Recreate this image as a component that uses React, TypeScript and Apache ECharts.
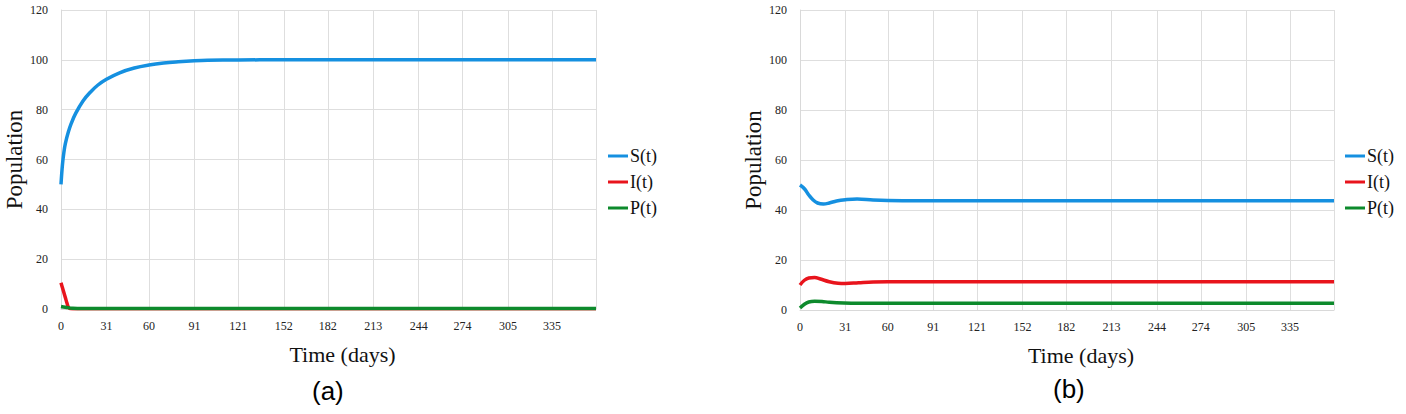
import React, { useEffect, useRef } from "react";
import * as echarts from "echarts";

// Day categories 0..365 and month-start tick days
const DAYS: string[] = Array.from({ length: 366 }, (_, i) => String(i));
const MONTH_TICKS = [0, 31, 60, 91, 121, 152, 182, 213, 244, 274, 305, 335];
const Y_TICKS = [0, 20, 40, 60, 80, 100, 120];

// Panel (a) — [day, population]
const S_A: [number, number][] = [
  [0, 50], [1, 58], [2, 63], [3, 66.5], [5, 71], [7, 74.5], [10, 78.5], [15, 83.5],
  [20, 87], [25, 89.8], [31, 92.2], [40, 94.8], [50, 96.7], [60, 97.9], [70, 98.7],
  [80, 99.2], [91, 99.6], [100, 99.8], [121, 99.95], [150, 100], [200, 100], [365, 100],
];
const I_A: [number, number][] = [
  [0, 10.5], [1, 8.5], [2, 6.5], [3, 4.5], [4, 2.5], [5, 0.8], [6, 0.2], [10, 0.1], [365, 0.1],
];
const P_A: [number, number][] = [
  [0, 1], [3, 0.7], [8, 0.3], [15, 0.2], [365, 0.2],
];

// Panel (b) — [day, population]
const S_B: [number, number][] = [
  [0, 50], [3, 48.5], [6, 46], [9, 44], [12, 42.8], [16, 42.4], [20, 42.8], [25, 43.6],
  [31, 44.1], [39, 44.4], [50, 44.0], [60, 43.8], [80, 43.7], [365, 43.7],
];
const I_B: [number, number][] = [
  [0, 10], [3, 11.9], [6, 12.8], [10, 13], [14, 12.4], [20, 11.3], [26, 10.7], [31, 10.6],
  [40, 10.9], [50, 11.2], [60, 11.3], [365, 11.3],
];
const P_B: [number, number][] = [
  [0, 0.8], [3, 2.3], [6, 3.2], [10, 3.5], [15, 3.4], [20, 3.1], [30, 2.8], [40, 2.7], [365, 2.7],
];

const SERIES_NAMES = ["S(t)", "I(t)", "P(t)"];
const COLORS = ["#1590e0", "#e8141c", "#0d8a2c"];

const SERIF = "Liberation Serif";

export default function App() {
  const ref = useRef<HTMLDivElement>(null);
  useEffect(() => {
    if (!ref.current) return;
    const chart = echarts.init(ref.current, null, { renderer: "svg" });

    const grids = [
      { left: 61, top: 10, width: 535, height: 299 },
      { left: 800, top: 10, width: 534, height: 300 },
    ];

    const xAxis = grids.map((_, gi) => ({
      type: "category",
      gridIndex: gi,
      data: DAYS,
      boundaryGap: false,
      name: "Time (days)",
      nameLocation: "middle",
      nameGap: 34,
      nameTextStyle: { fontFamily: SERIF, fontSize: 22, color: "#111", padding: [0, 0, 0, 28] },
      axisLine: { show: true, lineStyle: { color: "#d9d9d9", width: 1 } },
      axisTick: { show: false },
      axisLabel: {
        interval: (index: number) => MONTH_TICKS.includes(index),
        fontFamily: SERIF,
        fontSize: 12,
        color: "#222",
        margin: 11,
      },
      splitLine: {
        show: true,
        interval: (index: number) => MONTH_TICKS.includes(index) || index === 365,
        lineStyle: { color: "#dedede", width: 1 },
      },
    }));

    const yAxis = grids.map((_, gi) => ({
      type: "value",
      gridIndex: gi,
      min: Y_TICKS[0],
      max: Y_TICKS[Y_TICKS.length - 1],
      interval: 20,
      name: "Population",
      nameLocation: "middle",
      nameGap: 34,
      nameTextStyle: { fontFamily: SERIF, fontSize: 23, color: "#111" },
      axisLine: { show: true, lineStyle: { color: "#d9d9d9", width: 1 } },
      axisTick: { show: false },
      axisLabel: { fontFamily: SERIF, fontSize: 12, color: "#222", margin: 13 },
      splitLine: { show: true, lineStyle: { color: "#dedede", width: 1 } },
    }));

    const panels = [
      [S_A, I_A, P_A],
      [S_B, I_B, P_B],
    ];
    const zOrder = [5, 3, 4];
    const series: any[] = [];
    panels.forEach((p, gi) => {
      p.forEach((data, si) => {
        series.push({
          type: "line",
          name: SERIES_NAMES[si],
          xAxisIndex: gi,
          yAxisIndex: gi,
          data,
          smooth: 0.4,
          showSymbol: false,
          symbol: "none",
          lineStyle: { color: COLORS[si], width: 3.5 },
          itemStyle: { color: COLORS[si] },
          z: zOrder[si],
        });
      });
    });

    const legendBase = {
      orient: "vertical",
      top: 147,
      padding: 0,
      itemWidth: 20,
      itemHeight: 3,
      itemGap: 8,
      icon: "rect",
      data: SERIES_NAMES,
      textStyle: { fontFamily: SERIF, fontSize: 18, color: "#111", padding: [0, 0, 0, -3] },
      selectedMode: false,
    };

    chart.setOption({
      animation: false,
      backgroundColor: "#ffffff",
      grid: grids,
      xAxis,
      yAxis,
      series,
      legend: [
        { ...legendBase, left: 608 },
        { ...legendBase, left: 1345 },
      ],
      graphic: [
        {
          type: "text",
          left: 312,
          top: 378,
          style: { text: "(a)", font: "26px 'Liberation Sans'", fill: "#000" },
        },
        {
          type: "text",
          left: 1053,
          top: 376,
          style: { text: "(b)", font: "26px 'Liberation Sans'", fill: "#000" },
        },
      ],
    });

    return () => chart.dispose();
  }, []);

  return (
    <div
      ref={ref}
      style={{ position: "absolute", left: 0, top: 0, width: 1406, height: 414 }}
    />
  );
}
